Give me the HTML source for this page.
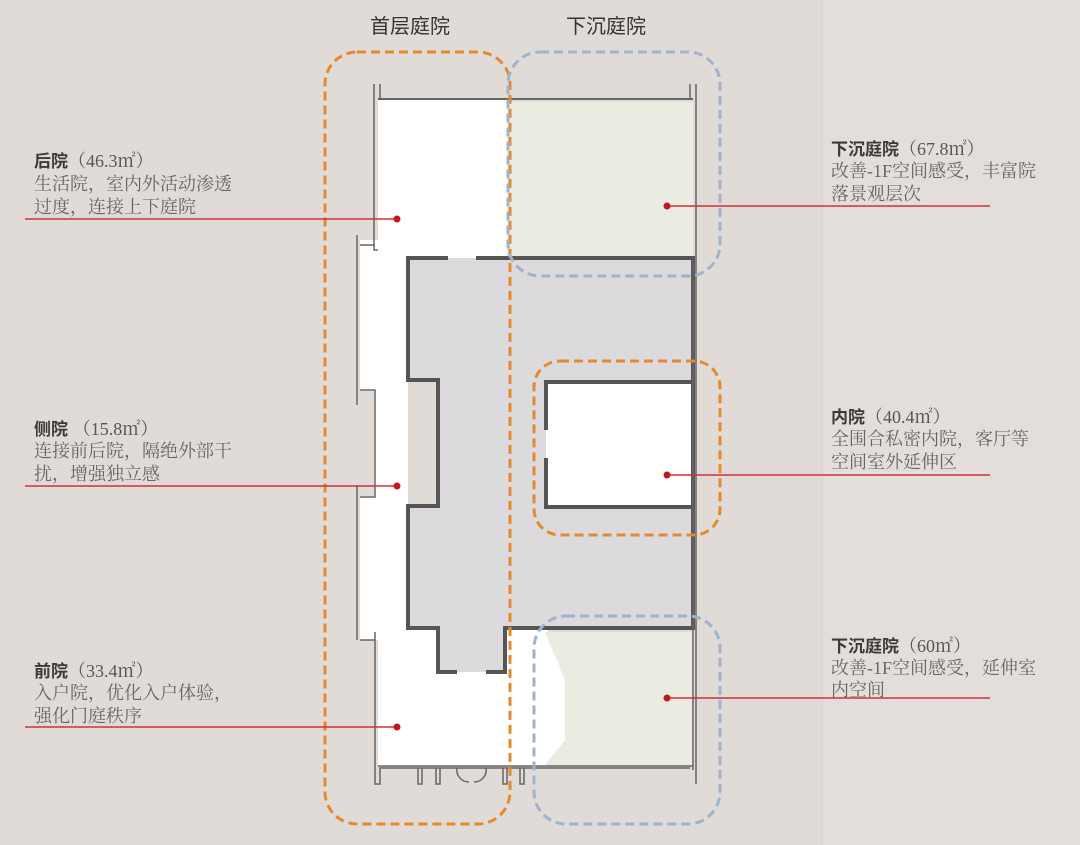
<!DOCTYPE html>
<html><head><meta charset="utf-8"><style>
html,body{margin:0;padding:0;background:#e1dbd7;}
svg{display:block}
text{font-family:"Liberation Serif","Noto Serif CJK SC","Noto Sans CJK SC",serif;}
.t{font-size:17px;fill:#3a3a3a;font-weight:bold;font-family:"Liberation Sans","Noto Sans CJK SC",sans-serif;}
.d{font-size:18px;fill:#666;font-family:"Liberation Serif","Noto Serif CJK SC",serif;}
.n{font-weight:normal;fill:#555;font-size:18px;font-family:"Liberation Serif","Noto Serif CJK SC",serif;}
</style></head><body>
<svg width="1080" height="845" viewBox="0 0 1080 845" xmlns="http://www.w3.org/2000/svg">
<rect width="1080" height="845" fill="#e1dbd7"/>
<rect x="822" y="0" width="258" height="845" fill="#e3dedb"/>
<line x1="822" y1="0" x2="822" y2="845" stroke="#d9d3cf" stroke-width="1"/>
<text x="410" y="33" text-anchor="middle" style="font-size:20px;fill:#333;font-family:'Liberation Sans','Noto Sans CJK SC',sans-serif">首层庭院</text>
<text x="606" y="33" text-anchor="middle" style="font-size:20px;fill:#333;font-family:'Liberation Sans','Noto Sans CJK SC',sans-serif">下沉庭院</text>

<rect x="378" y="100" width="130" height="158" fill="#fff"/>
<rect x="507" y="102" width="186" height="156" fill="#ebede3"/>
<rect x="360" y="240" width="48" height="400" fill="#fff"/>
<rect x="358" y="391" width="16" height="105" fill="#e1dbd7"/>
<rect x="378" y="628" width="170" height="138" fill="#fff"/>
<rect x="540" y="632" width="152" height="133" fill="#ebebe2"/>
<polygon points="540,632 545,632 565,680 565,740 545,765 540,765" fill="#fff"/>
<polygon points="408,258 693,258 693,628 505,628 505,672 438,672 438,628 408,628 408,506 438,506 438,380 408,380" fill="#dcdadc"/>
<rect x="546" y="382" width="147" height="125" fill="#fff"/>
<g fill="none" stroke="#555" stroke-width="4">
<polyline points="448,258 408,258 408,380 438,380 438,506 408,506 408,628 438,628 438,672 457,672"/>
<polyline points="476,258 693,258 693,628 505,628 505,672 486,672"/>
<polyline points="546,430 546,382 693,382"/>
<polyline points="546,458 546,507 693,507"/>
</g>
<g fill="none" stroke="#666" stroke-width="1.5">
<polyline points="374,84 374,250 378,250"/>
<polyline points="380,84 380,99 690,99 690,84"/>
<line x1="378" y1="99" x2="693" y2="99" stroke-width="2"/>
<polyline points="696,84 696,784"/>
<polyline points="693,258 693,770"/>
<polyline points="357,235 357,405"/>
<polyline points="360,245 374,245"/>
<polyline points="357,485 357,640"/>
<polyline points="360,390 375,390 375,497 360,497"/>
<polyline points="360,640 375,640"/>
<polyline points="375,632 375,784 380,784 380,768 690,768"/>
<line x1="378" y1="766" x2="693" y2="766"/>
<polyline points="418,768 418,784 422,784 422,768"/>
<polyline points="436,768 436,784 440,784 440,768"/>
<polyline points="503,768 503,784 507,784 507,768"/>
<polyline points="520,768 520,784 524,784 524,768"/>
<path d="M457,768 a12,12 0 0 0 12,14 M486,768 a12,12 0 0 1 -12,14"/>
</g>
<rect x="325" y="52" width="185" height="772" rx="32" fill="none" stroke="#e48a2e" stroke-width="3" stroke-dasharray="9,5"/>
<rect x="508" y="52" width="212" height="224" rx="32" fill="none" stroke="#9fb3cc" stroke-width="3" stroke-dasharray="9,5"/>
<rect x="534" y="361" width="186" height="174" rx="26" fill="none" stroke="#e48a2e" stroke-width="3" stroke-dasharray="9,5"/>
<rect x="534" y="616" width="186" height="208" rx="32" fill="none" stroke="#9fb3cc" stroke-width="3" stroke-dasharray="9,5"/>

<g stroke="#d0313a" stroke-width="1.5">
<line x1="25" y1="219" x2="397" y2="219"/>
<line x1="25" y1="486" x2="397" y2="486"/>
<line x1="25" y1="727" x2="397" y2="727"/>
<line x1="667" y1="206" x2="990" y2="206"/>
<line x1="667" y1="475" x2="990" y2="475"/>
<line x1="667" y1="698" x2="990" y2="698"/>
</g>
<g fill="#c4161c">
<circle cx="397" cy="219" r="3.5"/><circle cx="397" cy="486" r="3.5"/><circle cx="397" cy="727" r="3.5"/>
<circle cx="667" cy="206" r="3.5"/><circle cx="667" cy="475" r="3.5"/><circle cx="667" cy="698" r="3.5"/>
</g>

<text x="34" y="167" class="t">后院<tspan class="n">（46.3㎡）</tspan></text>
<text x="34" y="190" class="d">生活院，室内外活动渗透</text>
<text x="34" y="213" class="d">过度，连接上下庭院</text>

<text x="34" y="435" class="t">侧院 <tspan class="n">（15.8㎡）</tspan></text>
<text x="34" y="457" class="d">连接前后院，隔绝外部干</text>
<text x="34" y="480" class="d">扰，增强独立感</text>

<text x="34" y="677" class="t">前院<tspan class="n">（33.4㎡）</tspan></text>
<text x="34" y="699" class="d">入户院，优化入户体验，</text>
<text x="34" y="722" class="d">强化门庭秩序</text>

<text x="831" y="155" class="t">下沉庭院<tspan class="n">（67.8㎡）</tspan></text>
<text x="831" y="177" class="d">改善-1F空间感受，丰富院</text>
<text x="831" y="200" class="d">落景观层次</text>

<text x="831" y="423" class="t">内院<tspan class="n">（40.4㎡）</tspan></text>
<text x="831" y="445" class="d">全围合私密内院，客厅等</text>
<text x="831" y="468" class="d">空间室外延伸区</text>

<text x="831" y="652" class="t">下沉庭院<tspan class="n">（60㎡）</tspan></text>
<text x="831" y="674" class="d">改善-1F空间感受，延伸室</text>
<text x="831" y="696" class="d">内空间</text>
</svg>
</body></html>
